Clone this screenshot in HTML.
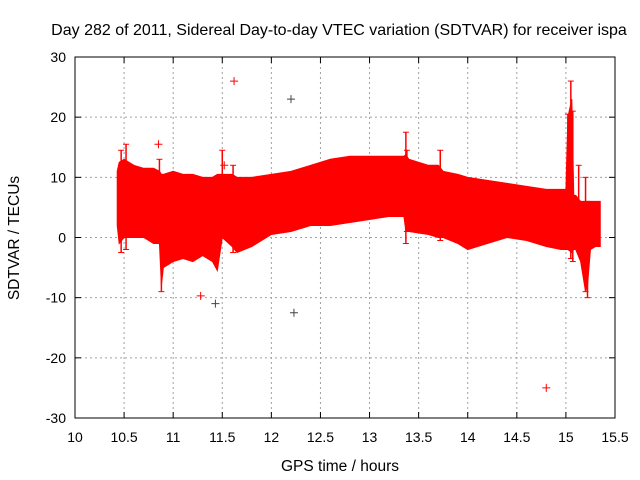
<!DOCTYPE html>
<html><head><meta charset="utf-8"><style>
body{margin:0;background:#fff}
svg{display:block;font-family:"Liberation Sans",sans-serif}
</style></head><body>
<svg id="chart" width="640" height="480" viewBox="0 0 640 480">
<rect width="640" height="480" fill="#fff"/>
<text x="339" y="35" font-size="16" text-anchor="middle">Day 282 of 2011, Sidereal Day-to-day VTEC variation (SDTVAR) for receiver ispa</text>
<text x="340" y="471" font-size="15.5" text-anchor="middle">GPS time / hours</text>
<text transform="translate(19,238) rotate(-90)" font-size="15.5" text-anchor="middle">SDTVAR / TECUs</text>
<g id="grid"></g>
<g id="series"></g>
<g id="axes"></g>
</svg>
<script>
const xTicks=[10,10.5,11,11.5,12,12.5,13,13.5,14,14.5,15,15.5];
const yTicks=[-30,-20,-10,0,10,20,30];
const times=[10.43,10.45,10.5,10.6,10.7,10.8,10.86,10.88,10.9,11.0,11.1,11.2,11.3,11.4,11.45,11.5,11.6,11.65,11.8,12.0,12.2,12.4,12.6,12.8,13.0,13.2,13.35,13.37,13.4,13.6,13.7,13.75,13.9,14.0,14.2,14.4,14.6,14.8,14.95,15.0,15.02,15.06,15.08,15.1,15.15,15.2,15.22,15.25,15.3,15.35];
const upper=[11,12.5,13,12,11.5,11.5,11,10.5,10.5,11,10.5,10.5,10,10,10.5,10.5,10.5,10,10,10.5,11,12,13,13.5,13.5,13.5,13.5,13.8,13,12,12,11,10.5,10,9.5,9,8.5,8,8,8,20,23,7,7,6,6,6,6,6,6];
const lower=[2,-1,0,0,0,-1,-1,-8,-5,-4,-3.5,-4,-3,-4,-5.5,0,-1.5,-2.5,-1.5,0.5,1,2,2,2.5,3,3.5,3.5,1,1,0.5,0,0,-1,-2,-1,0,-0.5,-1.5,-2,-2,-2,-2.5,-2,-2,-4,-9,-8,-2,-1.5,-1.5];
const spikeT=[10.47,10.52,10.86,10.88,11.5,11.61,13.37,13.38,13.72,15.02,15.05,15.07,15.13,15.2,15.22];
const spikeHi=[14.5,15.5,13,-1,14.5,12,17.5,14.5,14.5,20.5,26,21,12,10,6];
const spikeLo=[-2.5,-2,-1,-9,1,-2.5,-1,1,-0.5,-2,-3.5,-4,-2,-9,-10];
const outT=[10.85,11.62,12.2,11.28,11.43,12.23,14.8,11.52];
const outV=[15.5,26,23,-9.7,-11,-12.5,-25,12];
const outC=['#f00','#f00','#444','#f00','#444','#444','#f00','#f00'];
const X0=75,X1=615,Y0=418,Y1=57;
const xs=v=>X0+(v-10)/5.5*(X1-X0);
const ys=v=>Y0-(v+30)/60*(Y0-Y1);
const NS='http://www.w3.org/2000/svg';
function mk(tag,attrs,parent){const e=document.createElementNS(NS,tag);for(const k in attrs)e.setAttribute(k,attrs[k]);document.getElementById(parent).appendChild(e);return e;}
xTicks.forEach((t,i)=>{
 if(i>0&&i<xTicks.length-1){const g=mk('line',{x1:xs(t),x2:xs(t),y1:Y1,y2:Y0,stroke:'#a0a0a0','stroke-dasharray':'2,3'},'grid');
 
 }
 const l=mk('text',{x:xs(t),y:Y0+24,'font-size':'14','text-anchor':'middle'},'axes');l.textContent=t;
 
 
 mk('line',{x1:xs(t),x2:xs(t),y1:Y0,y2:Y0-6,stroke:'#000'},'axes');
 mk('line',{x1:xs(t),x2:xs(t),y1:Y1,y2:Y1+6,stroke:'#000'},'axes');
});
yTicks.forEach((t,i)=>{
 if(i>0&&i<yTicks.length-1){const g=mk('line',{x1:X0,x2:X1,y1:ys(t),y2:ys(t),stroke:'#a0a0a0','stroke-dasharray':'2,3'},'grid');
 
 }
 const l=mk('text',{x:X0-9,y:ys(t)+5,'font-size':'14','text-anchor':'end'},'axes');l.textContent=t;
 
 
 mk('line',{x1:X0,x2:X0+6,y1:ys(t),y2:ys(t),stroke:'#000'},'axes');
 mk('line',{x1:X1,x2:X1-6,y1:ys(t),y2:ys(t),stroke:'#000'},'axes');
});
const b=mk('rect',{x:X0,y:Y1,width:X1-X0,height:Y0-Y1,fill:'none',stroke:'#000'},'axes');


let pts=[];
times.forEach((t,i)=>pts.push(xs(t)+','+ys(upper[i])));
for(let i=times.length-1;i>=0;i--)pts.push(xs(times[i])+','+ys(lower[i]));
const band=mk('polygon',{points:pts.join(' '),fill:'#f00',stroke:'#f00','stroke-width':'1'},'series');


spikeT.forEach((t,i)=>{
 const x=xs(t);
 const s=mk('line',{x1:x,x2:x,y1:ys(spikeHi[i]),y2:ys(spikeLo[i]),stroke:'#f00','stroke-width':'1.5'},'series');
 
 
 mk('line',{x1:x-3,x2:x+3,y1:ys(spikeHi[i]),y2:ys(spikeHi[i]),stroke:'#f00'},'series');
 mk('line',{x1:x-3,x2:x+3,y1:ys(spikeLo[i]),y2:ys(spikeLo[i]),stroke:'#f00'},'series');
});
outT.forEach((t,i)=>{
 const x=xs(t),y=ys(outV[i]);
 const p=mk('path',{d:`M${x-4},${y}H${x+4}M${x},${y-4}V${y+4}`,stroke:outC[i],'stroke-width':'1'},'series');
 
 
});
</script>
</body></html>
